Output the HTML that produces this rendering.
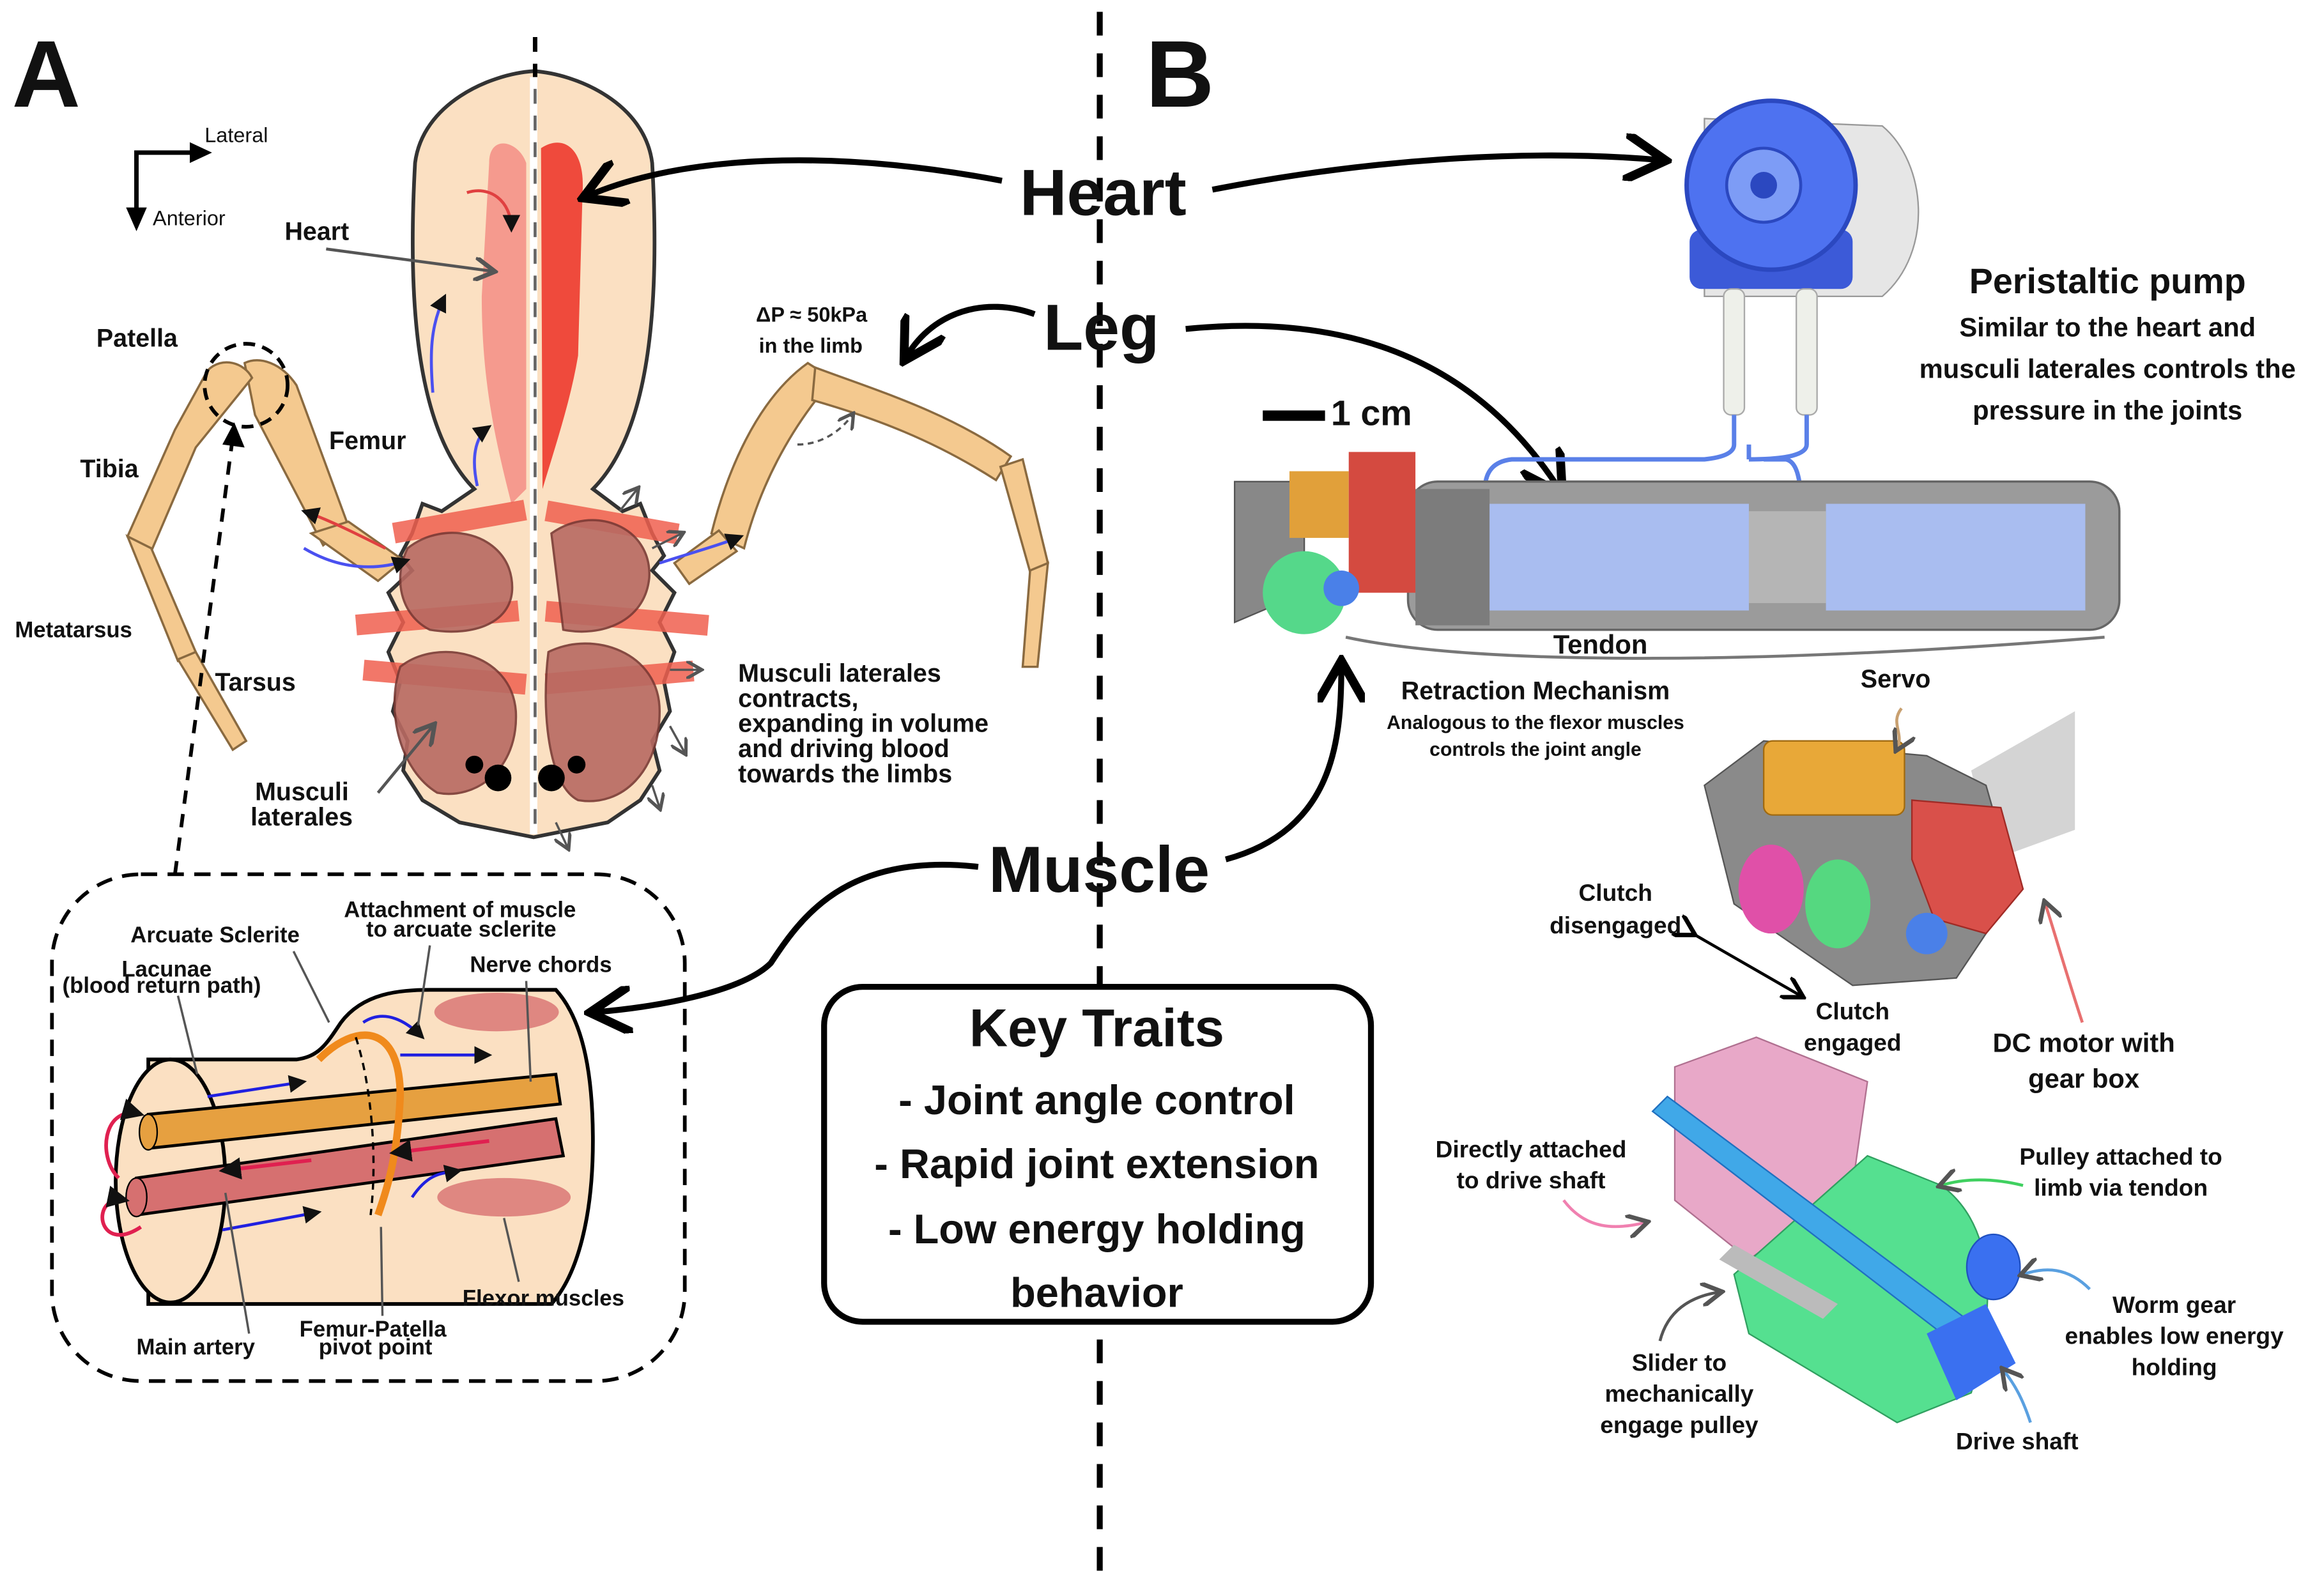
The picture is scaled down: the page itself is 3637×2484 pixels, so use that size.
<!DOCTYPE html>
<html><head><meta charset="utf-8">
<style>
html,body{margin:0;padding:0;background:#fff;}
svg{display:block;}
text{font-family:"Liberation Sans",sans-serif;fill:#111;}
.b{font-weight:bold;}
</style></head>
<body>
<svg width="3637" height="2484" viewBox="0 0 1568 1071" xmlns="http://www.w3.org/2000/svg">
<defs>
<marker id="ah" markerWidth="8" markerHeight="8" refX="6" refY="4" orient="auto" markerUnits="strokeWidth"><path d="M0,0 L7,4 L0,8" fill="none" stroke="#000" stroke-width="1.5"/></marker>
<marker id="ahg" markerWidth="8" markerHeight="8" refX="6" refY="4" orient="auto" markerUnits="strokeWidth"><path d="M0,0 L7,4 L0,8" fill="none" stroke="#555" stroke-width="1.5"/></marker>
<marker id="ahb" markerWidth="6" markerHeight="6" refX="5" refY="3" orient="auto" markerUnits="strokeWidth"><path d="M0,0 L6,3 L0,6Z" fill="#111"/></marker>
</defs>
<rect width="1568" height="1071" fill="#fff"/>

<text x="8" y="72" font-size="64" class="b">A</text>
<text x="773" y="72" font-size="64" class="b">B</text>

<line x1="742" y1="8" x2="742" y2="1065" stroke="#000" stroke-width="4" stroke-dasharray="16,12"/>

<path d="M92,150 L92,103 L135,103" fill="none" stroke="#000" stroke-width="3"/>
<path d="M128,96 L143,103 L128,110Z"/><path d="M85,140 L92,156 L99,140Z"/>
<text x="138" y="96" font-size="14">Lateral</text>
<text x="103" y="152" font-size="14">Anterior</text>

<!-- Body -->
<path d="M320,330 C280,290 275,200 280,110 C285,70 330,50 360,48 C390,50 435,70 440,110 C445,200 440,290 400,330 L420,345 L432,340 L440,360 L448,375 L440,385 L455,400 L445,420 L455,440 L448,460 L452,480 L440,500 L445,520 L432,540 L410,555 L360,565 L310,555 L285,540 L272,520 L275,500 L265,480 L270,460 L262,440 L272,420 L262,400 L278,385 L270,375 L278,360 L285,340 L298,345Z" fill="#fbe0c2" stroke="#333" stroke-width="2.5"/>
<path d="M330,110 C330,90 350,95 355,110 L355,330 L345,340 C335,300 325,260 325,200Z" fill="#f59a8e"/>
<path d="M365,100 C380,90 395,100 393,130 L390,240 C385,270 375,300 366,330Z" fill="#ef4a3c"/>
<g fill="#f06050" opacity="0.85">
<rect x="265" y="345" width="90" height="14" transform="rotate(-10 310 352)"/>
<rect x="240" y="410" width="110" height="14" transform="rotate(-5 295 417)"/>
<rect x="245" y="450" width="110" height="14" transform="rotate(5 300 457)"/>
<rect x="368" y="345" width="90" height="14" transform="rotate(10 410 352)"/>
<rect x="368" y="410" width="110" height="14" transform="rotate(5 420 417)"/>
<rect x="368" y="450" width="100" height="14" transform="rotate(-5 420 457)"/>
</g>
<g fill="#b86a62" stroke="#7a3a35" stroke-width="1.5" opacity="0.9">
<path d="M275,370 C300,350 340,360 345,390 C350,420 320,430 290,425 C270,415 265,390 275,370Z"/>
<path d="M270,450 C295,430 345,440 348,480 C350,520 320,540 295,535 C270,520 260,480 270,450Z"/>
<path d="M372,360 C400,340 440,355 438,390 C435,420 405,430 380,425Z"/>
<path d="M370,440 C400,425 445,440 445,480 C445,520 420,545 390,540 C370,530 365,480 370,440Z"/>
</g>
<circle cx="320" cy="516" r="6" fill="#000"/><circle cx="336" cy="525" r="9" fill="#000"/>
<circle cx="372" cy="525" r="9" fill="#000"/><circle cx="389" cy="516" r="6" fill="#000"/>
<line x1="360" y1="52" x2="360" y2="563" stroke="#fff" stroke-width="5"/>
<line x1="361" y1="25" x2="361" y2="52" stroke="#000" stroke-width="3" stroke-dasharray="10,8"/>
<line x1="361" y1="60" x2="361" y2="560" stroke="#000" stroke-width="2" stroke-dasharray="10,8" opacity="0.6"/>
<path d="M322,328 C318,310 320,295 330,288" fill="none" stroke="#4a50f0" stroke-width="2" marker-end="url(#ahb)"/>
<path d="M292,265 C290,240 290,220 300,200" fill="none" stroke="#4a50f0" stroke-width="2" marker-end="url(#ahb)"/>
<path d="M315,130 C330,125 345,135 345,155" fill="none" stroke="#e04040" stroke-width="2" marker-end="url(#ahb)"/>

<g fill="#f4c98f" stroke="#8a6a40" stroke-width="1.5">
<path d="M165,245 C175,240 190,245 200,260 L235,355 L218,368 L172,280 Z"/>
<path d="M140,250 C150,240 165,245 170,255 L132,302 L102,372 L86,362 L118,290Z"/>
<path d="M86,362 L102,370 L132,440 L120,446 Z"/>
<path d="M120,445 L132,440 L166,500 L157,506Z"/>
<path d="M210,360 L235,352 L272,378 L255,392Z"/>
</g>
<g fill="#f4c98f" stroke="#8a6a40" stroke-width="1.5">
<path d="M480,360 C490,320 510,270 545,245 L562,256 C532,290 512,330 502,370Z"/>
<path d="M550,248 C590,263 640,278 682,308 L672,324 C630,297 590,282 548,270Z"/>
<path d="M675,315 L690,310 L707,380 L695,386Z"/>
<path d="M695,385 L707,380 L700,450 L690,450Z"/>
<path d="M455,380 L485,358 L497,372 L465,394Z"/>
</g>
<path d="M538,300 C555,300 568,290 575,280" fill="none" stroke="#555" stroke-width="1.5" stroke-dasharray="4,3" marker-end="url(#ahg)"/>
<ellipse cx="166" cy="260" rx="28" ry="28" fill="none" stroke="#000" stroke-width="2.5" stroke-dasharray="8,5"/>
<path d="M118,590 L157,295" stroke="#000" stroke-width="2.5" stroke-dasharray="9,7" fill="none"/>
<path d="M150,300 L158,285 L165,302Z"/>
<path d="M205,370 C230,385 255,385 275,378" fill="none" stroke="#4a50f0" stroke-width="2" marker-end="url(#ahb)"/>
<path d="M260,370 C240,360 220,350 205,345" fill="none" stroke="#e04040" stroke-width="2" marker-end="url(#ahb)"/>
<path d="M445,380 C470,372 485,368 500,362" fill="none" stroke="#4a50f0" stroke-width="2" marker-end="url(#ahb)"/>
<g stroke="#555" stroke-width="1.5" marker-end="url(#ahg)">
<line x1="418" y1="345" x2="430" y2="330"/><line x1="440" y1="370" x2="460" y2="360"/>
<line x1="452" y1="452" x2="472" y2="452"/><line x1="452" y1="490" x2="462" y2="508"/>
<line x1="440" y1="530" x2="445" y2="545"/><line x1="375" y1="555" x2="383" y2="572"/>
</g>

<text x="192" y="162" font-size="17" class="b">Heart</text>
<path d="M220,168 L332,183" stroke="#555" stroke-width="2" marker-end="url(#ahg)"/>
<text x="65" y="234" font-size="17" class="b">Patella</text>
<text x="222" y="303" font-size="17" class="b">Femur</text>
<text x="54" y="322" font-size="17" class="b">Tibia</text>
<text x="10" y="430" font-size="15" class="b">Metatarsus</text>
<text x="145" y="466" font-size="17" class="b">Tarsus</text>
<text x="172" y="540" font-size="17" class="b">Musculi</text>
<text x="169" y="557" font-size="17" class="b">laterales</text>
<path d="M255,535 L292,490" stroke="#555" stroke-width="2" marker-end="url(#ahg)"/>
<text x="510" y="217" font-size="14" class="b">ΔP ≈ 50kPa</text>
<text x="512" y="238" font-size="14" class="b">in the limb</text>
<g font-size="17" class="b"><text x="498" y="460">Musculi laterales</text><text x="498" y="477">contracts,</text><text x="498" y="494">expanding in volume</text><text x="498" y="511">and driving blood</text><text x="498" y="528">towards the limbs</text></g>

<text x="688" y="145" font-size="44" class="b">Heart</text>
<text x="704" y="236" font-size="44" class="b">Leg</text>
<text x="667" y="602" font-size="44" class="b">Muscle</text>
<path d="M676,122 C560,100 460,105 397,132" fill="none" stroke="#000" stroke-width="4" marker-end="url(#ah)"/>
<path d="M818,128 C920,108 1030,100 1120,108" fill="none" stroke="#000" stroke-width="4" marker-end="url(#ah)"/>
<path d="M698,212 C665,200 630,210 612,240" fill="none" stroke="#000" stroke-width="4" marker-end="url(#ah)"/>
<path d="M800,222 C920,210 1000,250 1052,330" fill="none" stroke="#000" stroke-width="4" marker-end="url(#ah)"/>
<path d="M827,580 C900,560 905,500 905,450" fill="none" stroke="#000" stroke-width="4" marker-end="url(#ah)"/>
<path d="M660,585 C570,575 540,620 520,650 C500,670 440,680 402,683" fill="none" stroke="#000" stroke-width="4" marker-end="url(#ah)"/>

<rect x="35" y="590" width="427" height="342" rx="60" fill="none" stroke="#000" stroke-width="2.5" stroke-dasharray="11,7"/>
<path d="M100,715 L200,715 C215,713 220,705 230,690 C245,670 270,668 290,668 L375,668 C395,690 400,730 400,770 C400,820 390,860 372,880 L240,880 C180,880 140,880 100,880 Z" fill="#fbe0c2" stroke="#000" stroke-width="2.5"/>
<ellipse cx="115" cy="797" rx="37" ry="82" fill="#fbe0c2" stroke="#000" stroke-width="2.5"/>
<ellipse cx="335" cy="683" rx="42" ry="13" fill="#d87070" opacity="0.8"/>
<ellipse cx="340" cy="808" rx="45" ry="13" fill="#d87070" opacity="0.8"/>
<path d="M100,752 L375,725 L378,745 L100,775Z" fill="#e6a040" stroke="#000" stroke-width="2"/>
<ellipse cx="100" cy="764" rx="6" ry="12" fill="#e6a040" stroke="#000"/>
<path d="M92,795 L375,755 L380,780 L92,820Z" fill="#d67070" stroke="#000" stroke-width="2"/>
<ellipse cx="92" cy="808" rx="7" ry="13" fill="#d67070" stroke="#000"/>
<path d="M215,715 C240,690 270,690 270,740 C268,780 262,800 255,820" fill="none" stroke="#f08a1c" stroke-width="5"/>
<path d="M240,700 C250,730 255,780 250,820" fill="none" stroke="#000" stroke-width="1.5" stroke-dasharray="5,4"/>
<g stroke="#2020e0" stroke-width="2" fill="none" marker-end="url(#ahb)">
<path d="M140,740 L205,730"/><path d="M150,830 L215,818"/><path d="M270,712 L330,712"/><path d="M278,808 C290,790 300,792 310,790"/><path d="M245,690 C260,680 275,690 285,700"/>
</g>
<g stroke="#e02050" stroke-width="2.5" fill="none" marker-end="url(#ahb)">
<path d="M80,795 C65,780 70,745 95,752"/><path d="M95,828 C65,848 60,805 85,810"/><path d="M210,783 L150,790"/><path d="M330,770 L265,778"/>
</g>
<g font-size="15" class="b">
<text x="88" y="636">Arcuate Sclerite</text>
<text x="232" y="619">Attachment of muscle</text><text x="247" y="632">to arcuate sclerite</text>
<text x="82" y="659">Lacunae</text><text x="42" y="670">(blood return path)</text>
<text x="317" y="656">Nerve chords</text>
<text x="312" y="881">Flexor muscles</text>
<text x="92" y="914">Main artery</text>
<text x="202" y="902">Femur-Patella</text><text x="215" y="914">pivot point</text>
</g>
<g stroke="#555" stroke-width="1.5" fill="none">
<path d="M198,642 L222,690"/><path d="M120,672 L133,725"/><path d="M290,638 L282,692"/><path d="M355,662 L358,730"/>
<path d="M350,865 L340,822"/><path d="M168,900 L152,805"/><path d="M258,888 L257,828"/>
</g>

<rect x="556" y="666" width="369" height="226" rx="26" fill="#fff" stroke="#000" stroke-width="4"/>
<g class="b" text-anchor="middle">
<text x="740" y="706" font-size="36">Key Traits</text>
<text x="740" y="752" font-size="28">- Joint angle control</text>
<text x="740" y="795" font-size="28">- Rapid joint extension</text>
<text x="740" y="839" font-size="28">- Low energy holding</text>
<text x="740" y="882" font-size="28">behavior</text>
</g>

<path d="M1150,80 L1270,85 C1300,110 1305,170 1270,200 L1150,200Z" fill="#e6e6e6" stroke="#999"/>
<rect x="1140" y="155" width="110" height="40" rx="8" fill="#3c5ad8"/>
<circle cx="1195" cy="125" r="57" fill="#4e72f0" stroke="#2b48c0" stroke-width="3"/>
<circle cx="1190" cy="125" r="25" fill="#7d9cf6" stroke="#2b48c0" stroke-width="2"/>
<circle cx="1190" cy="125" r="9" fill="#2b48c0"/>
<rect x="1163" y="195" width="14" height="85" rx="5" fill="#eef0ea" stroke="#aaa"/>
<rect x="1212" y="195" width="14" height="85" rx="5" fill="#eef0ea" stroke="#aaa"/>
<path d="M1170,280 L1170,300 Q1170,308 1150,310 L1020,310 Q1002,312 1002,330 M1219,280 L1219,300 Q1219,310 1180,310 L1180,310 M1180,300 L1180,310 M1190,310 L1205,310 Q1215,312 1215,340" fill="none" stroke="#5a80e8" stroke-width="3"/>
<g class="b" text-anchor="middle">
<text x="1422" y="198" font-size="24">Peristaltic pump</text>
<text x="1422" y="227" font-size="18">Similar to the heart and</text>
<text x="1422" y="255" font-size="18">musculi laterales controls the</text>
<text x="1422" y="283" font-size="18">pressure in the joints</text>
</g>

<rect x="852" y="277" width="42" height="7" fill="#000"/>
<text x="898" y="287" font-size="24" class="b">1 cm</text>
<rect x="950" y="325" width="480" height="100" rx="20" fill="#9b9b9b" stroke="#666" stroke-width="1.5"/>
<rect x="1005" y="340" width="175" height="72" fill="#a9bdf0"/>
<rect x="1232" y="340" width="175" height="72" fill="#a9bdf0"/>
<rect x="1180" y="345" width="52" height="62" fill="#b5b5b5"/>
<rect x="955" y="330" width="50" height="92" fill="#7c7c7c"/>
<path d="M833,325 L880,325 L880,400 L833,420 Z" fill="#888" stroke="#555"/>
<rect x="870" y="318" width="40" height="45" fill="#e1a03a"/>
<rect x="910" y="305" width="45" height="95" fill="#d44a40"/>
<circle cx="880" cy="400" r="28" fill="#55d88a"/>
<circle cx="905" cy="397" r="12" fill="#4a80e8"/>
<path d="M908,430 C1000,450 1200,448 1420,430" fill="none" stroke="#777" stroke-width="2"/>
<text x="1048" y="441" font-size="18" class="b">Tendon</text>
<g class="b" text-anchor="middle">
<text x="1036" y="472" font-size="17">Retraction Mechanism</text>
<text x="1036" y="492" font-size="13">Analogous to the flexor muscles</text>
<text x="1036" y="510" font-size="13">controls the joint angle</text>
<text x="1279" y="464" font-size="17">Servo</text>
</g>

<path d="M1330,520 L1400,480 L1400,560 L1345,580Z" fill="#c9c9c9" opacity="0.8"/>
<path d="M1150,530 L1190,500 L1300,510 L1340,530 L1360,600 L1320,660 L1250,665 L1170,610Z" fill="#8a8a8a" stroke="#555"/>
<rect x="1190" y="500" width="95" height="50" rx="6" fill="#e8a838" stroke="#a06a10"/>
<path d="M1290,540 L1350,545 L1365,600 L1340,630 L1305,620 L1290,580Z" fill="#d9504a" stroke="#a02a25"/>
<ellipse cx="1195" cy="600" rx="22" ry="30" fill="#e050a8"/>
<ellipse cx="1240" cy="610" rx="22" ry="30" fill="#55d880"/>
<circle cx="1300" cy="630" r="14" fill="#4a80e8"/>
<path d="M1283,478 C1275,488 1285,495 1280,505" fill="none" stroke="#c8a070" stroke-width="2" marker-end="url(#ahg)"/>
<path d="M1405,690 C1395,660 1385,625 1380,610" fill="none" stroke="#e87070" stroke-width="2" marker-end="url(#ahg)"/>
<path d="M1142,630 L1215,672" stroke="#000" stroke-width="2" marker-end="url(#ah)" marker-start="url(#ah)"/>
<g class="b" text-anchor="middle" font-size="16">
<text x="1090" y="608">Clutch</text><text x="1090" y="630">disengaged</text>
<text x="1250" y="688">Clutch</text><text x="1250" y="709">engaged</text>
<text x="1406" y="710" font-size="18">DC motor with</text><text x="1406" y="734" font-size="18">gear box</text>
</g>

<path d="M1130,720 L1185,700 L1260,730 L1250,800 L1180,850 L1130,810Z" fill="#e8a8c8" stroke="#b07090"/>
<path d="M1260,780 L1310,800 C1350,830 1345,890 1330,940 L1280,960 L1180,900 L1170,860Z" fill="#55e090" stroke="#30a060"/>
<path d="M1115,750 L1125,740 L1340,900 L1330,915Z" fill="#40a8e8" stroke="#2070c0"/>
<path d="M1300,900 L1340,880 L1360,920 L1320,945Z" fill="#3a70f0"/>
<ellipse cx="1345" cy="855" rx="18" ry="22" fill="#3a70f0" stroke="#2050c0"/>
<path d="M1170,840 L1240,880 L1230,890 L1160,850Z" fill="#bbb"/>
<g class="b" text-anchor="middle" font-size="16">
<text x="1033" y="781">Directly attached</text><text x="1033" y="802">to drive shaft</text>
<text x="1431" y="786">Pulley attached to</text><text x="1431" y="807">limb via tendon</text>
<text x="1467" y="886">Worm gear</text><text x="1467" y="907">enables low energy</text><text x="1467" y="928">holding</text>
<text x="1133" y="925">Slider to</text><text x="1133" y="946">mechanically</text><text x="1133" y="967">engage pulley</text>
<text x="1361" y="978">Drive shaft</text>
</g>
<g fill="none" stroke-width="2">
<path d="M1055,810 C1070,830 1090,830 1110,825" stroke="#f080b0" marker-end="url(#ahg)"/>
<path d="M1365,800 C1345,795 1325,795 1310,800" stroke="#40d060" marker-end="url(#ahg)"/>
<path d="M1410,870 C1395,855 1380,855 1365,860" stroke="#5aa0e0" marker-end="url(#ahg)"/>
<path d="M1120,905 C1125,885 1140,875 1160,872" stroke="#555" marker-end="url(#ahg)"/>
<path d="M1370,960 C1365,945 1360,935 1352,925" stroke="#5aa0e0" marker-end="url(#ahg)"/>
</g>
</svg>
</body></html>
